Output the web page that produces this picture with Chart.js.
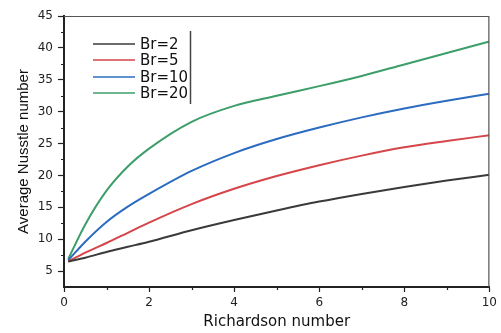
<!DOCTYPE html>
<html>
<head>
<meta charset="utf-8">
<script src="https://cdn.jsdelivr.net/npm/chart.js@4"></script>
<style>
html,body{margin:0;padding:0;background:#fff;}
#wrap{width:501px;height:333px;}
</style>
</head>
<body>
<div id="wrap"><canvas id="c" width="501" height="333"></canvas></div>
<script>
const richardson = [0.1, 0.5, 1, 1.5, 2, 3, 4, 5, 6, 7, 8, 9, 10];
const br2  = [6.5, 7.1, 8.0, 8.8, 9.6, 11.4, 13.0, 14.5, 15.9, 17.1, 18.2, 19.2, 20.1];
const br5  = [6.5, 7.9, 9.4, 11.0, 12.6, 15.5, 17.9, 19.9, 21.6, 23.1, 24.4, 25.4, 26.3];
const br10 = [6.7, 9.6, 12.7, 15.1, 17.1, 20.7, 23.5, 25.7, 27.5, 29.1, 30.5, 31.7, 32.8];
const br20 = [6.9, 12.3, 17.6, 21.4, 24.2, 28.4, 30.9, 32.5, 34.0, 35.6, 37.4, 39.2, 41.0];
const seriesLabels = ['Br=2', 'Br=5', 'Br=10', 'Br=20'];
const seriesColors = ['#3a3a3a', '#d5454a', '#2b6cc0', '#3d9e6a'];
const xTicks = [0, 2, 4, 6, 8, 10];
const xMinorTicks = [1, 3, 5, 7, 9];
const yTicks = [5, 10, 15, 20, 25, 30, 35, 40, 45];
const yMinorTicks = [7.5, 12.5, 17.5, 22.5, 27.5, 32.5, 37.5, 42.5];

const allSeries = [br2, br5, br10, br20];
const datasets = allSeries.map((s, i) => ({
  label: seriesLabels[i],
  data: s.map((v, j) => ({x: richardson[j], y: v})),
  borderColor: seriesColors[i],
  backgroundColor: seriesColors[i],
  borderWidth: 2,
  pointRadius: 0,
  cubicInterpolationMode: 'monotone',
  fill: false
}));

const FONT = "'DejaVu Sans', sans-serif";
const FONT2 = "'Liberation Sans', Arial, sans-serif";

const framePlugin = {
  id: 'frame',
  afterDraw(chart) {
    const ctx = chart.ctx;
    const a = chart.chartArea;
    const xs = chart.scales.x, ys = chart.scales.y;
    ctx.save();
    ctx.strokeStyle = '#555';
    ctx.lineWidth = 1.2;
    ctx.beginPath();
    ctx.moveTo(a.left, a.top + 0.5);
    ctx.lineTo(a.right - 0.5, a.top + 0.5);
    ctx.lineTo(a.right - 0.5, a.bottom);
    ctx.stroke();
    ctx.strokeStyle = '#222';
    ctx.lineWidth = 1.2;
    ctx.beginPath();
    yMinorTicks.forEach(v => {
      const y = Math.round(ys.getPixelForValue(v)) + 0.5;
      ctx.moveTo(a.left - 3, y);
      ctx.lineTo(a.left, y);
    });
    xMinorTicks.forEach(v => {
      const x = Math.round(xs.getPixelForValue(v)) + 0.5;
      ctx.moveTo(x, a.bottom);
      ctx.lineTo(x, a.bottom + 3);
    });
    ctx.stroke();
    const rows = [44, 60, 77, 93];
    ctx.font = '15px ' + FONT;
    ctx.textBaseline = 'middle';
    ctx.textAlign = 'left';
    chart.data.datasets.forEach((ds, i) => {
      ctx.strokeStyle = ds.borderColor;
      ctx.lineWidth = 1.5;
      ctx.beginPath();
      ctx.moveTo(93, rows[i]);
      ctx.lineTo(135, rows[i]);
      ctx.stroke();
      ctx.fillStyle = '#111';
      ctx.fillText(ds.label, 140, rows[i] + 1);
    });
    ctx.strokeStyle = '#444';
    ctx.lineWidth = 1.5;
    ctx.beginPath();
    ctx.moveTo(190.5, 31);
    ctx.lineTo(190.5, 104);
    ctx.stroke();
    ctx.restore();
  }
};

new Chart(document.getElementById('c'), {
  type: 'line',
  data: {datasets},
  options: {
    responsive: false,
    animation: false,
    devicePixelRatio: 1,
    layout: {padding: {top: 16, right: 6, left: 0, bottom: 0}},
    plugins: {legend: {display: false}, tooltip: {enabled: false}},
    scales: {
      x: {
        type: 'linear',
        min: 0, max: 10,
        afterBuildTicks: s => { s.ticks = xTicks.map(v => ({value: v})); },
        afterFit: s => { s.height = 46; },
        grid: {drawOnChartArea: false, drawTicks: true, tickLength: 5, tickColor: '#222', tickWidth: 1.2},
        border: {display: true, color: '#222', width: 2},
        ticks: {font: {family: FONT, size: 12}, color: '#222', padding: 4, maxRotation: 0},
        title: {display: true, text: 'Richardson number', font: {family: FONT, size: 15}, color: '#111', padding: {top: 0, bottom: 2}}
      },
      y: {
        type: 'linear',
        min: 2.5, max: 45,
        afterBuildTicks: s => { s.ticks = yTicks.map(v => ({value: v})); },
        afterFit: s => { s.width = 64; },
        grid: {drawOnChartArea: false, drawTicks: true, tickLength: 6, tickColor: '#222', tickWidth: 1.2},
        border: {display: true, color: '#222', width: 2},
        ticks: {font: {family: FONT, size: 12}, color: '#222', padding: 5},
        title: {display: true, text: 'Average Nusstle number', font: {family: FONT2, size: 15}, color: '#111', padding: {top: 15, bottom: 0}}
      }
    }
  },
  plugins: [framePlugin]
});
</script>
</body>
</html>
